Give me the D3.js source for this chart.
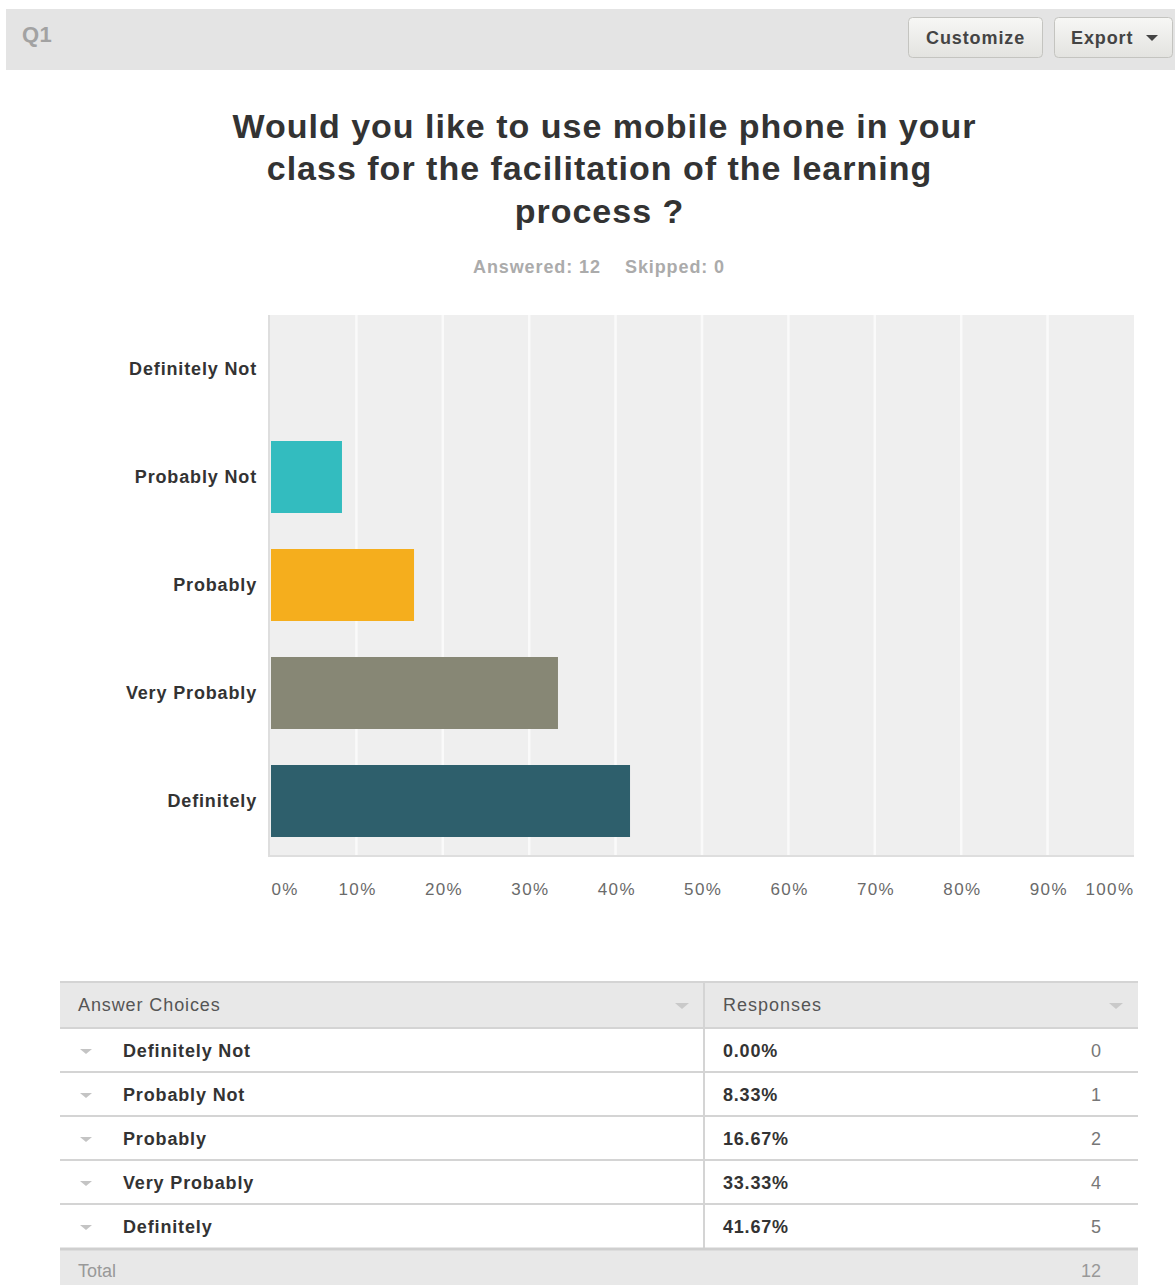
<!DOCTYPE html>
<html>
<head>
<meta charset="utf-8">
<script src="https://cdn.jsdelivr.net/npm/d3@7/dist/d3.min.js"></script>
<style>
  html, body { margin: 0; padding: 0; background: #fff; }
  svg { display: block; font-family: "Liberation Sans", Arial, Helvetica, sans-serif; }
</style>
</head>
<body>
<svg id="chart" width="1175" height="1285"></svg>
<script>
// Survey question Q1 results
const categories = ["Definitely Not", "Probably Not", "Probably", "Very Probably", "Definitely"];
const percents = [0.00, 8.33, 16.67, 33.33, 41.67];
const counts = [0, 1, 2, 4, 5];
const barColors = ["#33bcbf", "#33bcbf", "#f5ae1d", "#878775", "#2e5f6c"];
const tickValues = [0, 10, 20, 30, 40, 50, 60, 70, 80, 90, 100];
const titleLines = ["Would you like to use mobile phone in your", "class for the facilitation of the learning", "process ?"];
const totalAnswered = 12;
const totalSkipped = 0;

const svg = d3.select("#chart");

// ---- top toolbar ----
svg.append("rect").attr("x", 6).attr("y", 9).attr("width", 1169).attr("height", 61).attr("fill", "#e4e4e4");
svg.append("text").attr("x", 22).attr("y", 42).attr("font-size", 22).attr("font-weight", "bold")
  .attr("letter-spacing", 0.5).attr("fill", "#a2a2a2").text("Q1");

const defs = svg.append("defs");
const grad = defs.append("linearGradient").attr("id", "btnGrad").attr("x1", 0).attr("x2", 0).attr("y1", 0).attr("y2", 1);
grad.append("stop").attr("offset", "0%").attr("stop-color", "#f7f7f5");
grad.append("stop").attr("offset", "100%").attr("stop-color", "#e3e3e0");

const buttons = [
  { label: "Customize", x: 908, w: 134 },
  { label: "Export", x: 1054, w: 118, caret: true }
];
buttons.forEach(b => {
  svg.append("rect").attr("x", b.x + 0.5).attr("y", 17.5).attr("width", b.w).attr("height", 40)
    .attr("rx", 4).attr("fill", "url(#btnGrad)").attr("stroke", "#c4c4c0");
  svg.append("text").attr("x", b.caret ? b.x + 17 : b.x + 18).attr("y", 44)
    .attr("letter-spacing", 0.9)
    .attr("font-size", 18).attr("font-weight", "bold").attr("fill", "#444").text(b.label);
  if (b.caret) {
    svg.append("path").attr("d", `M${b.x + 92},${35} l12,0 l-6,6 z`).attr("fill", "#444");
  }
});

// ---- title ----
const title = svg.append("text").attr("text-anchor", "middle").attr("font-size", 34)
  .attr("letter-spacing", 1).attr("font-weight", "bold").attr("fill", "#333");
titleLines.forEach((line, i) => {
  title.append("tspan").attr("x", i === 0 ? 604.5 : 599.5).attr("y", 138 + i * 42.3).text(line);
});

svg.append("text").attr("x", 473).attr("y", 273)
  .attr("font-size", 18).attr("letter-spacing", 0.9).attr("font-weight", "bold").attr("fill", "#ababab")
  .text(`Answered: ${totalAnswered}`);
svg.append("text").attr("x", 625).attr("y", 273)
  .attr("font-size", 18).attr("letter-spacing", 0.9).attr("font-weight", "bold").attr("fill", "#ababab")
  .text(`Skipped: ${totalSkipped}`);

// ---- bar chart ----
const plot = { left: 270, right: 1134, top: 315, bottom: 855 };
const x = d3.scaleLinear().domain([0, 100]).range([plot.left, plot.right]);
const y = d3.scaleBand().domain(categories).range([plot.top, plot.bottom]).paddingInner(1 / 3).paddingOuter(1 / 6);

const g = svg.append("g");
g.append("rect").attr("x", plot.left - 2).attr("y", plot.top)
  .attr("width", plot.right - plot.left + 2).attr("height", plot.bottom - plot.top + 2).attr("fill", "#dedede");
g.append("rect").attr("x", plot.left).attr("y", plot.top)
  .attr("width", plot.right - plot.left).attr("height", plot.bottom - plot.top).attr("fill", "#efefef");

// vertical grid lines
g.selectAll("line.grid").data(tickValues.filter(t => t > 0 && t < 100)).join("line")
  .attr("class", "grid")
  .attr("x1", d => x(d)).attr("x2", d => x(d))
  .attr("y1", plot.top).attr("y2", plot.bottom)
  .attr("stroke", "#fafafa").attr("stroke-width", 2.5);

// bars
g.selectAll("rect.bar").data(categories).join("rect")
  .attr("class", "bar")
  .attr("x", x(0) + 1)
  .attr("y", d => y(d))
  .attr("width", (d, i) => Math.max(0, x(percents[i]) - x(0) - 1))
  .attr("height", y.bandwidth())
  .attr("fill", (d, i) => barColors[i]);

// category labels
const yAxis = d3.axisLeft(y).tickSize(0).tickPadding(13);
const yG = svg.append("g").attr("transform", `translate(${plot.left},0)`).call(yAxis);
yG.select(".domain").remove();
yG.selectAll("text").attr("font-size", 18).attr("font-weight", "bold").attr("fill", "#333")
  .attr("letter-spacing", 0.85)
  .attr("font-family", "Liberation Sans, Arial, sans-serif");

// percentage axis
const xAxis = d3.axisBottom(x).tickValues(tickValues).tickFormat(d => d + "%").tickSize(0).tickPadding(28);
const xG = svg.append("g").attr("transform", `translate(0,${plot.bottom})`).call(xAxis);
xG.select(".domain").remove();
xG.selectAll("text").attr("font-size", 17).attr("fill", "#6a6a6a")
  .attr("letter-spacing", 1.4)
  .attr("font-family", "Liberation Sans, Arial, sans-serif")
  .attr("text-anchor", d => d === 0 ? "start" : d === 100 ? "end" : "middle")
  .attr("dx", d => d === 0 ? 1 : d === 100 ? 0 : 0.7);

// ---- response table ----
const table = { left: 60, right: 1138, split: 704, headTop: 982, headH: 46, rowH: 44 };
svg.append("rect").attr("x", table.left).attr("y", table.headTop).attr("width", table.right - table.left)
  .attr("height", table.headH).attr("fill", "#e8e8e8");
svg.append("line").attr("x1", table.left).attr("x2", table.right).attr("y1", table.headTop).attr("y2", table.headTop)
  .attr("stroke", "#d4d4d4").attr("stroke-width", 2);
svg.append("text").attr("x", 78).attr("y", table.headTop + 29).attr("font-size", 18)
  .attr("letter-spacing", 0.9).attr("fill", "#555").text("Answer Choices");
svg.append("text").attr("x", 723).attr("y", table.headTop + 29).attr("font-size", 18)
  .attr("letter-spacing", 1).attr("fill", "#555").text("Responses");
[682, 1116].forEach(cx => {
  svg.append("path").attr("d", `M${cx - 7},${table.headTop + 21} l14,0 l-7,6 z`).attr("fill", "#c9c9c9");
});

const rowsTop = table.headTop + table.headH;
const rows = svg.append("g").selectAll("g").data(categories).join("g")
  .attr("transform", (d, i) => `translate(0,${rowsTop + i * table.rowH})`);
rows.append("line").attr("x1", table.left).attr("x2", table.right).attr("y1", 0).attr("y2", 0)
  .attr("stroke", "#d4d4d4").attr("stroke-width", 2);
rows.append("path").attr("d", `M80,${21} l12,0 l-6,5 z`).attr("fill", "#c4c4c4");
rows.append("text").attr("x", 123).attr("y", 29).attr("font-size", 18).attr("font-weight", "bold")
  .attr("letter-spacing", 0.85).attr("fill", "#333").text(d => d);
rows.append("text").attr("x", 723).attr("y", 29).attr("font-size", 18).attr("font-weight", "bold")
  .attr("letter-spacing", 0.8).attr("fill", "#333").text((d, i) => percents[i].toFixed(2) + "%");
rows.append("text").attr("x", 1101).attr("y", 29).attr("text-anchor", "end").attr("font-size", 18)
  .attr("fill", "#777").text((d, i) => counts[i]);

const totalTop = rowsTop + categories.length * table.rowH;
svg.append("line").attr("x1", table.split).attr("x2", table.split).attr("y1", table.headTop)
  .attr("y2", totalTop).attr("stroke", "#d4d4d4").attr("stroke-width", 2);
svg.append("rect").attr("x", table.left).attr("y", totalTop).attr("width", table.right - table.left)
  .attr("height", 1285 - totalTop).attr("fill", "#e8e8e8");
svg.append("line").attr("x1", table.left).attr("x2", table.right).attr("y1", totalTop + 1).attr("y2", totalTop + 1)
  .attr("stroke", "#cfcfcf").attr("stroke-width", 3);
svg.append("text").attr("x", 78).attr("y", totalTop + 29).attr("font-size", 18).attr("fill", "#999").text("Total");
svg.append("text").attr("x", 1101).attr("y", totalTop + 29).attr("text-anchor", "end").attr("font-size", 18)
  .attr("fill", "#999").text(d3.sum(counts));
</script>
</body>
</html>
